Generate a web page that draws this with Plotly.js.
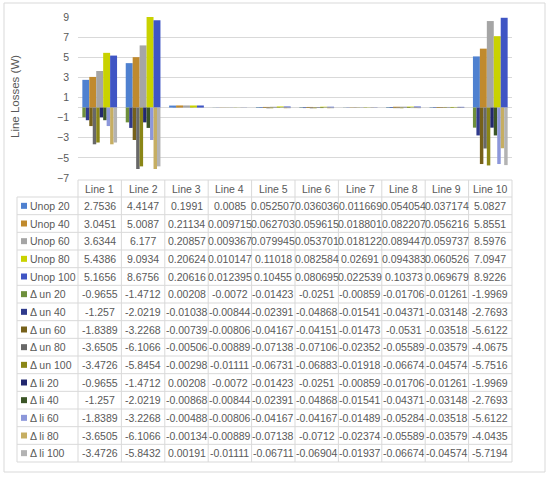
<!DOCTYPE html>
<html>
<head>
<meta charset="utf-8">
<script src="https://cdn.plot.ly/plotly-3.0.1.min.js"></script>
<style>html,body{margin:0;padding:0;background:#fff}</style>
</head>
<body>
<div id="chart" style="width:550px;height:478px"></div>
<script>
const lines = ['Line 1', 'Line 2', 'Line 3', 'Line 4', 'Line 5', 'Line 6', 'Line 7', 'Line 8', 'Line 9', 'Line 10'];

const unop20  = [2.7536, 4.4147, 0.1991, 0.0085, 0.052507, 0.036036, 0.011669, 0.054054, 0.037174, 5.0827];
const unop40  = [3.0451, 5.0087, 0.21134, 0.009715, 0.062703, 0.059615, 0.018801, 0.082207, 0.056216, 5.8551];
const unop60  = [3.6344, 6.177, 0.20857, 0.009367, 0.079945, 0.053701, 0.018122, 0.089447, 0.059737, 8.5976];
const unop80  = [5.4386, 9.0934, 0.20624, 0.010147, 0.11018, 0.082584, 0.02691, 0.094383, 0.060526, 7.0947];
const unop100 = [5.1656, 8.6756, 0.20616, 0.012395, 0.10455, 0.080695, 0.022539, 0.10373, 0.069679, 8.9226];
const dUn20   = [-0.9655, -1.4712, 0.00208, -0.0072, -0.01423, -0.0251, -0.00859, -0.01706, -0.01261, -1.9969];
const dUn40   = [-1.257, -2.0219, -0.01038, -0.00844, -0.02391, -0.04868, -0.01541, -0.04371, -0.03148, -2.7693];
const dUn60   = [-1.8389, -3.2268, -0.00739, -0.00806, -0.04167, -0.04151, -0.01473, -0.0531, -0.03518, -5.6122];
const dUn80   = [-3.6505, -6.1066, -0.00506, -0.00889, -0.07138, -0.07106, -0.02352, -0.05589, -0.03579, -4.0675];
const dUn100  = [-3.4726, -5.8454, -0.00298, -0.01111, -0.06731, -0.06883, -0.01918, -0.06674, -0.04574, -5.7516];
const dLi20   = [-0.9655, -1.4712, 0.00208, -0.0072, -0.01423, -0.0251, -0.00859, -0.01706, -0.01261, -1.9969];
const dLi40   = [-1.257, -2.0219, -0.00868, -0.00844, -0.02391, -0.04868, -0.01541, -0.04371, -0.03148, -2.7693];
const dLi60   = [-1.8389, -3.2268, -0.00488, -0.00806, -0.04167, -0.04167, -0.01489, -0.05284, -0.03518, -5.6122];
const dLi80   = [-3.6505, -6.1066, -0.00134, -0.00889, -0.07138, -0.0712, -0.02374, -0.05589, -0.03579, -4.0435];
const dLi100  = [-3.4726, -5.8432, 0.00191, -0.01111, -0.06711, -0.06904, -0.01937, -0.06674, -0.04574, -5.7194];

const seriesNames = ['Unop 20', 'Unop 40', 'Unop 60', 'Unop 80', 'Unop 100',
    'Δ un 20', 'Δ un 40', 'Δ un 60', 'Δ un 80', 'Δ un 100',
    'Δ li 20', 'Δ li 40', 'Δ li 60', 'Δ li 80', 'Δ li 100'];
const seriesValues = [unop20, unop40, unop60, unop80, unop100,
    dUn20, dUn40, dUn60, dUn80, dUn100,
    dLi20, dLi40, dLi60, dLi80, dLi100];
const seriesColors = ['#4f81d0', '#c08a2e', '#a5a5a5', '#c9d200', '#3f55c4',
    '#6e8f3c', '#2f3a8c', '#76611a', '#686868', '#8a8616',
    '#22286e', '#3b5526', '#8c97da', '#c6ae62', '#b3b3b3'];

const W = 550, H = 478;
const plotLeft = 78, plotRight = 512;
const colW = (plotRight - plotLeft) / lines.length;
const headTop = 180, headBot = 197, tableBot = 462;
const rowH = (tableBot - headBot) / seriesNames.length;
const legLeft = 17;
const grid = '#d9d9d9';
const txt = '#595959';
const fnt = 'Liberation Sans, Arial, sans-serif';

const px = v => v / W;
const py = v => 1 - v / H;

// bars: Unop on primary, deltas on overlaid secondary axes (like Excel)
let data = [];
for (let s = 0; s < seriesNames.length; s++) {
    const second = s >= 5;
    data.push({
        type: 'bar',
        name: seriesNames[s],
        x: lines,
        y: seriesValues[s],
        xaxis: second ? 'x2' : 'x',
        yaxis: second ? 'y2' : 'y',
        marker: {color: seriesColors[s], line: {width: 0}},
        hoverinfo: 'name+y'
    });
}

let shapes = [];
let annotations = [];

// outer frame
shapes.push({type: 'rect', xref: 'paper', yref: 'paper',
    x0: px(4), x1: px(545), y0: py(3), y1: py(472),
    line: {color: grid, width: 1}});

// table horizontal lines
shapes.push({type: 'line', xref: 'paper', yref: 'paper',
    x0: px(plotLeft), x1: px(plotRight), y0: py(headTop), y1: py(headTop),
    line: {color: grid, width: 1}});
for (let r = 0; r <= seriesNames.length; r++) {
    const yy = headBot + r * rowH;
    shapes.push({type: 'line', xref: 'paper', yref: 'paper',
        x0: px(legLeft), x1: px(plotRight), y0: py(yy), y1: py(yy),
        line: {color: grid, width: 1}});
}
// table vertical lines
shapes.push({type: 'line', xref: 'paper', yref: 'paper',
    x0: px(legLeft), x1: px(legLeft), y0: py(headBot), y1: py(tableBot),
    line: {color: grid, width: 1}});
for (let c = 0; c <= lines.length; c++) {
    const xx = plotLeft + c * colW;
    shapes.push({type: 'line', xref: 'paper', yref: 'paper',
        x0: px(xx), x1: px(xx), y0: py(headTop), y1: py(tableBot),
        line: {color: grid, width: 1}});
}

// header labels
for (let c = 0; c < lines.length; c++) {
    annotations.push({xref: 'x', yref: 'paper', x: lines[c], y: py((headTop + headBot) / 2),
        text: lines[c], showarrow: false, xanchor: 'center', yanchor: 'middle',
        font: {family: fnt, size: 10.5, color: txt}});
}

// rows: swatch, series name, values
for (let s = 0; s < seriesNames.length; s++) {
    const yc = headBot + (s + 0.5) * rowH;
    shapes.push({type: 'rect', xref: 'paper', yref: 'paper',
        x0: px(21), x1: px(27), y0: py(yc - 3), y1: py(yc + 3),
        fillcolor: seriesColors[s], line: {width: 0}});
    annotations.push({xref: 'paper', yref: 'paper', x: px(28), y: py(yc),
        text: seriesNames[s], showarrow: false, xanchor: 'left', yanchor: 'middle',
        font: {family: fnt, size: 10.5, color: txt}});
    for (let c = 0; c < lines.length; c++) {
        annotations.push({xref: 'x', yref: 'paper', x: lines[c], y: py(yc),
            text: String(seriesValues[s][c]), showarrow: false,
            xanchor: 'center', yanchor: 'middle',
            font: {family: fnt, size: 10.5, color: txt}});
    }
}

// y axis title
annotations.push({xref: 'paper', yref: 'paper', x: px(15), y: py(97),
    text: 'Line Losses (W)', textangle: -90, showarrow: false,
    xanchor: 'center', yanchor: 'middle',
    font: {family: fnt, size: 11.5, color: txt}});

const yRange = [-7, 9];

let layout = {
    width: W,
    height: H,
    margin: {l: 0, r: 0, t: 0, b: 0, pad: 0},
    paper_bgcolor: '#ffffff',
    plot_bgcolor: '#ffffff',
    showlegend: false,
    barmode: 'group',
    bargap: 0.2,
    bargroupgap: 0,
    xaxis: {
        type: 'category',
        domain: [px(plotLeft), px(plotRight)],
        range: [-0.5, lines.length - 0.5],
        showticklabels: false,
        showgrid: false,
        zeroline: false,
        showline: false,
        ticks: '',
        anchor: 'y'
    },
    yaxis: {
        domain: [py(178), py(17)],
        range: yRange,
        tickmode: 'linear',
        tick0: 1,
        dtick: 2,
        gridcolor: grid,
        gridwidth: 1,
        zeroline: true,
        zerolinecolor: grid,
        zerolinewidth: 1,
        showline: false,
        ticks: '',
        ticklabelstandoff: 8,
        tickfont: {family: fnt, size: 10.5, color: txt},
        anchor: 'x'
    },
    xaxis2: {
        type: 'category',
        overlaying: 'x',
        range: [-0.5, lines.length - 0.5],
        visible: false,
        anchor: 'y2'
    },
    yaxis2: {
        overlaying: 'y',
        range: yRange,
        visible: false,
        anchor: 'x2'
    },
    shapes: shapes,
    annotations: annotations
};

Plotly.newPlot('chart', data, layout, {displayModeBar: false, staticPlot: true});
</script>
</body>
</html>
